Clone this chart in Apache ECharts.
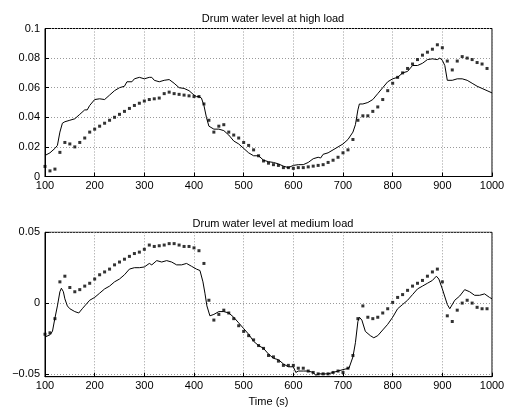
<!DOCTYPE html>
<html>
<head>
<meta charset="utf-8">
<script src="https://cdn.jsdelivr.net/npm/echarts@6/dist/echarts.min.js"></script>
<style>
html,body{margin:0;padding:0;background:#fff;}
#c{width:513px;height:414px;}
</style>
</head>
<body>
<div id="c"></div>
<script>
// ---- Data ----
const titles = ['Drum water level at high load', 'Drum water level at medium load'];
const xLabel = 'Time (s)';

// High load: continuous line (model)
const tHighLine = [100,110,120,125,130,135,140,150,160,170,180,185,190,200,210,220,230,240,250,260,265,275,280,290,300,310,315,320,330,340,350,360,370,380,390,400,405,410,415,420,425,430,440,450,460,470,480,490,500,510,520,530,540,550,560,570,580,590,600,610,620,630,640,650,655,660,670,680,690,700,710,720,725,730,733,740,750,760,770,780,790,800,810,820,830,840,850,860,870,880,890,895,900,905,910,920,930,940,950,960,970,980,990,1000];
const vHighLine = [0.0142,0.016,0.019,0.021,0.030,0.036,0.037,0.038,0.039,0.042,0.045,0.045,0.048,0.052,0.0525,0.052,0.055,0.058,0.060,0.061,0.064,0.064,0.066,0.067,0.066,0.067,0.067,0.065,0.064,0.065,0.0655,0.063,0.060,0.0595,0.058,0.055,0.054,0.054,0.053,0.048,0.040,0.034,0.032,0.032,0.031,0.028,0.024,0.022,0.019,0.016,0.014,0.014,0.011,0.010,0.0095,0.0085,0.007,0.006,0.0075,0.008,0.008,0.0095,0.012,0.013,0.0125,0.015,0.016,0.018,0.020,0.022,0.025,0.030,0.035,0.045,0.049,0.049,0.050,0.052,0.056,0.060,0.064,0.066,0.067,0.070,0.071,0.075,0.075,0.0765,0.079,0.0795,0.079,0.080,0.0785,0.075,0.065,0.065,0.066,0.066,0.065,0.063,0.061,0.0595,0.058,0.0565];

// High load: dotted (measured)
const tHighDots = [100,110,120,130,140,150,160,170,180,190,200,210,220,230,240,250,260,270,280,290,300,310,320,330,340,350,360,370,380,390,400,410,420,430,440,450,460,470,480,490,500,510,520,530,540,550,560,570,580,590,600,610,620,630,640,650,660,670,680,690,700,710,720,730,740,750,760,770,780,790,800,810,820,830,840,850,860,870,880,890,900,910,920,930,940,950,960,970,980,990];
const vHighDots = [0.0068,0.0038,0.005,0.0163,0.023,0.022,0.020,0.023,0.026,0.030,0.032,0.034,0.036,0.038,0.040,0.042,0.044,0.046,0.048,0.0495,0.051,0.052,0.0525,0.053,0.056,0.057,0.056,0.0555,0.055,0.0545,0.054,0.054,0.049,0.038,0.030,0.034,0.035,0.030,0.028,0.026,0.023,0.021,0.018,0.014,0.0105,0.009,0.008,0.0075,0.006,0.006,0.0055,0.006,0.006,0.0065,0.007,0.0075,0.008,0.0095,0.011,0.013,0.016,0.018,0.025,0.038,0.041,0.041,0.044,0.047,0.052,0.058,0.063,0.067,0.070,0.073,0.076,0.079,0.082,0.084,0.086,0.089,0.087,0.078,0.072,0.078,0.081,0.080,0.079,0.077,0.076,0.073];

// Medium load: continuous line (model)
const tMedLine = [100,110,115,120,125,130,133,137,140,145,150,160,168,175,180,190,200,210,220,230,240,250,260,270,280,290,300,310,315,325,335,345,355,365,375,385,395,405,412,418,422,426,432,440,450,460,470,480,490,500,510,520,530,540,550,560,570,580,590,600,605,610,620,630,640,645,650,660,670,680,690,700,712,720,725,730,733,738,745,755,762,770,780,790,800,810,820,830,840,850,860,870,880,888,893,900,910,915,925,935,945,955,965,975,985,995,1000];
const vMedLine = [-0.024,-0.0224,-0.02,-0.0106,-0.002,0.008,0.0105,0.008,0.003,-0.002,-0.004,-0.006,-0.007,-0.004,-0.002,0.002,0.004,0.007,0.010,0.012,0.015,0.017,0.020,0.024,0.025,0.025,0.0255,0.028,0.027,0.030,0.029,0.030,0.029,0.027,0.027,0.028,0.026,0.024,0.023,0.015,0.007,-0.002,-0.009,-0.008,-0.006,-0.006,-0.007,-0.010,-0.014,-0.018,-0.022,-0.027,-0.030,-0.032,-0.036,-0.039,-0.040,-0.043,-0.045,-0.045,-0.049,-0.048,-0.048,-0.048,-0.049,-0.051,-0.050,-0.050,-0.050,-0.049,-0.048,-0.047,-0.046,-0.038,-0.028,-0.013,-0.010,-0.012,-0.020,-0.023,-0.0245,-0.023,-0.019,-0.015,-0.010,-0.004,-0.001,0.002,0.006,0.010,0.012,0.014,0.016,0.019,0.017,0.010,-0.001,-0.004,0.002,0.005,0.0095,0.008,0.0055,0.0055,0.0065,0.004,0.003];

// Medium load: dotted (measured)
const tMedDots = [100,110,120,130,140,150,160,170,180,190,200,210,220,230,240,250,260,270,280,290,300,310,320,330,340,350,360,370,380,390,400,410,420,430,440,450,460,470,480,490,500,510,520,530,540,550,560,570,580,590,600,610,620,630,640,650,660,670,680,690,700,710,720,730,740,750,760,770,780,790,800,810,820,830,840,850,860,870,880,890,900,910,920,930,940,950,960,970,980,990];
const vMedDots = [-0.022,-0.021,-0.011,0.015,0.019,0.011,0.008,0.0095,0.012,0.014,0.017,0.020,0.022,0.024,0.027,0.029,0.031,0.033,0.035,0.036,0.038,0.041,0.040,0.0405,0.041,0.042,0.042,0.041,0.040,0.040,0.039,0.037,0.028,0.002,-0.012,-0.008,-0.005,-0.007,-0.011,-0.016,-0.020,-0.023,-0.026,-0.030,-0.032,-0.037,-0.038,-0.041,-0.044,-0.044,-0.044,-0.046,-0.046,-0.048,-0.049,-0.050,-0.050,-0.050,-0.049,-0.048,-0.049,-0.046,-0.037,-0.011,-0.002,-0.010,-0.011,-0.010,-0.007,-0.004,0.0005,0.004,0.006,0.009,0.012,0.014,0.016,0.019,0.022,0.024,0.015,-0.009,-0.013,-0.005,0.000,0.002,0.000,-0.003,-0.004,-0.004];

// Tick labels
const xTicks = [100,200,300,400,500,600,700,800,900,1000];
const yTicksHigh = [0,0.02,0.04,0.06,0.08,0.1];
const yTicksMed = [-0.05,0,0.05];

// ---- Chart ----
const pairs = (t, v) => t.map((x, i) => [x, v[i]]);
const FONT = 'Liberation Sans, Arial, Helvetica, sans-serif';
const fmt = v => String(Math.round(v * 1000) / 1000).replace('-', '\u2212');

const splitLine = { show: true, lineStyle: { color: '#999', type: [1, 2], width: 1 } };
const axisLabel = { color: '#000', fontFamily: FONT, fontSize: 11 };

function xAxis(gi, withName) {
  const a = {
    type: 'value', gridIndex: gi, min: 100, max: 1000, interval: 100,
    axisLine: { show: true, onZero: false, lineStyle: { color: '#000', width: 1 } },
    axisTick: { show: true, inside: true, length: 4, lineStyle: { color: '#000' } },
    axisLabel: Object.assign({}, axisLabel, { margin: 4, formatter: v => xTicks.includes(v) ? String(v) : '' }),
    splitLine: splitLine
  };
  if (withName) {
    a.name = xLabel; a.nameLocation = 'middle'; a.nameGap = 20;
    a.nameTextStyle = { color: '#000', fontFamily: FONT, fontSize: 11 };
  }
  return a;
}

const titleStyle = { fontFamily: FONT, fontSize: 11, fontWeight: 'normal', color: '#000' };

const option = {
  backgroundColor: '#fff',
  animation: false,
  title: [
    { text: titles[0], left: 268, top: 8, textAlign: 'center', textStyle: titleStyle },
    { text: titles[1], left: 268, top: 213, textAlign: 'center', textStyle: titleStyle }
  ],
  grid: [
    { left: 45, top: 28.5, width: 447, height: 148, show: true, borderColor: '#000', borderWidth: 1, backgroundColor: 'transparent' },
    { left: 45, top: 232.3, width: 447, height: 144.4, show: true, borderColor: '#000', borderWidth: 1, backgroundColor: 'transparent' }
  ],
  xAxis: [xAxis(0, false), xAxis(1, true)],
  yAxis: [
    {
      type: 'value', gridIndex: 0, min: 0, max: 0.1, interval: 0.02,
      axisLine: { show: true, onZero: false, lineStyle: { color: '#000' } },
      axisTick: { show: true, inside: true, length: 4, lineStyle: { color: '#000' } },
      axisLabel: Object.assign({}, axisLabel, { margin: 5, formatter: fmt, customValues: yTicksHigh }),
      splitLine: splitLine
    },
    {
      type: 'value', gridIndex: 1, min: -0.052, max: 0.05,
      axisLine: { show: true, onZero: false, lineStyle: { color: '#000' } },
      axisTick: { show: true, inside: true, length: 4, lineStyle: { color: '#000' }, customValues: yTicksMed },
      axisLabel: Object.assign({}, axisLabel, { margin: 5, formatter: fmt, customValues: yTicksMed }),
      splitLine: splitLine
    }
  ],
  series: [
    { type: 'line', xAxisIndex: 0, yAxisIndex: 0, data: pairs(tHighLine, vHighLine), showSymbol: false, lineStyle: { color: '#000', width: 1 }, z: 3 },
    { type: 'scatter', xAxisIndex: 0, yAxisIndex: 0, data: pairs(tHighDots, vHighDots), symbol: 'rect', symbolSize: 3, itemStyle: { color: '#000' }, z: 4 },
    { type: 'line', xAxisIndex: 1, yAxisIndex: 1, data: pairs(tMedLine, vMedLine), showSymbol: false, lineStyle: { color: '#000', width: 1 }, z: 3 },
    { type: 'scatter', xAxisIndex: 1, yAxisIndex: 1, data: pairs(tMedDots, vMedDots), symbol: 'rect', symbolSize: 3, itemStyle: { color: '#000' }, z: 4 }
  ]
};

const chart = echarts.init(document.getElementById('c'), null, { renderer: 'canvas' });
chart.setOption(option);
</script>
</body>
</html>
